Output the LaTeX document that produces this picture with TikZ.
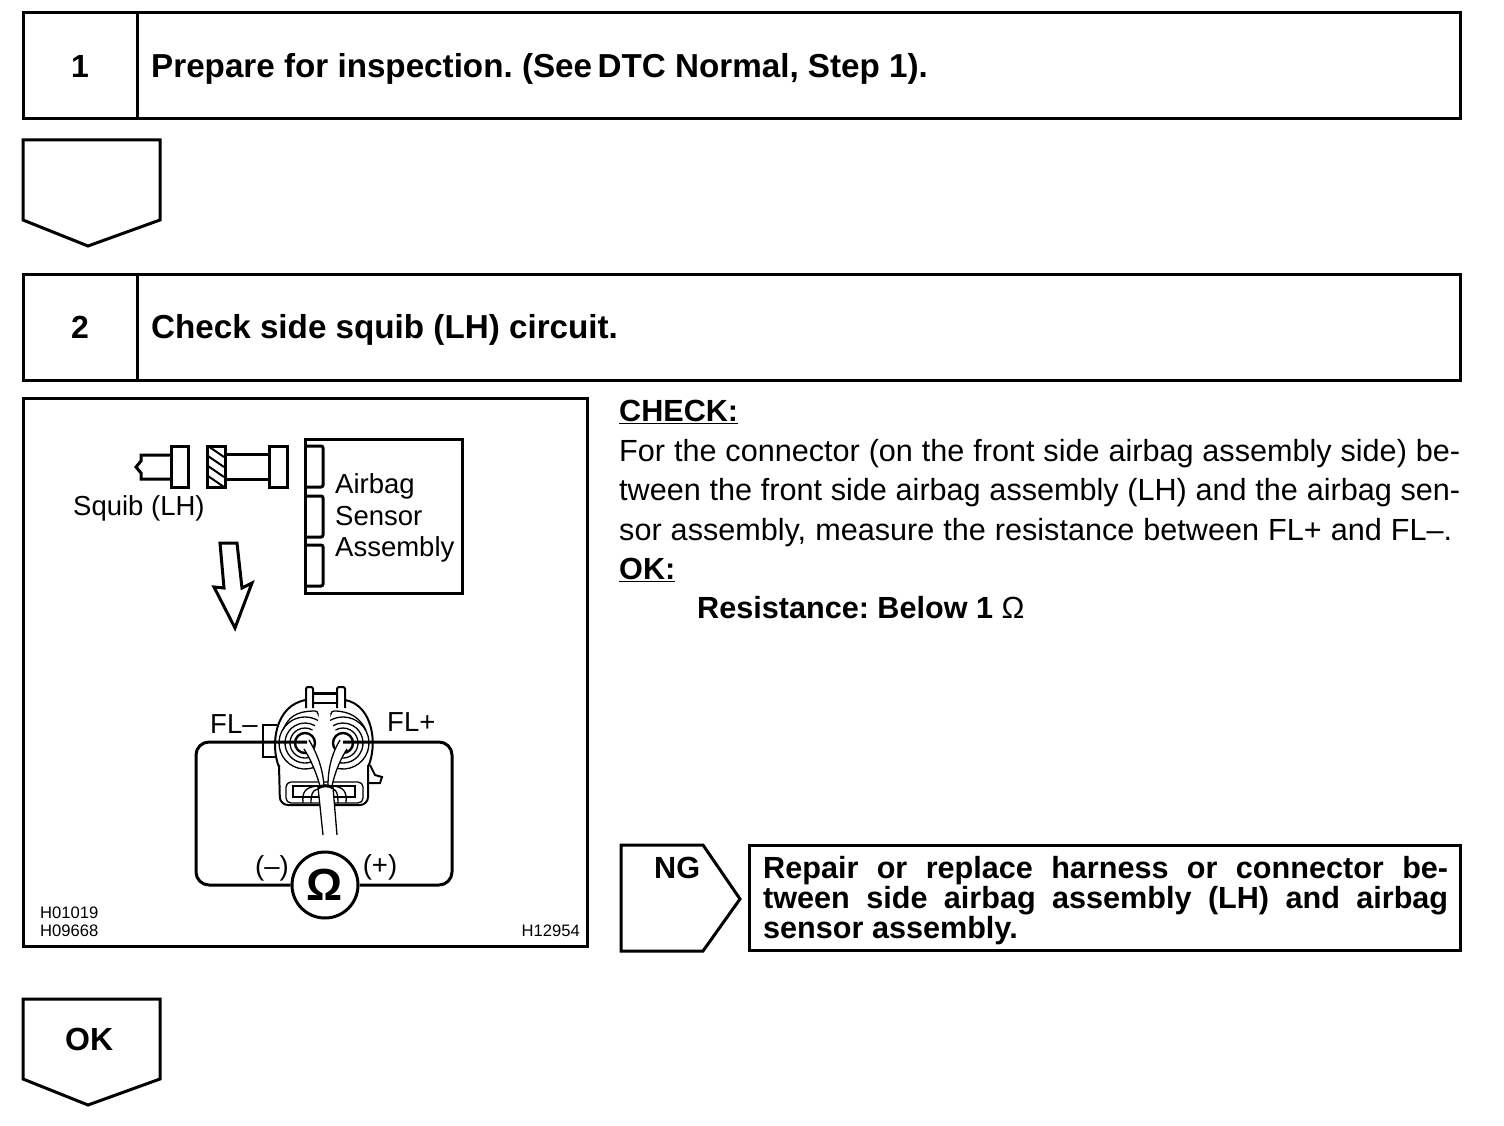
\documentclass[tikz,border=0pt]{standalone}
\usepackage{fontspec}
\setmainfont{Liberation Sans}
\newcommand{\sized}[1]{\fontsize{#1}{#1}\selectfont}
\tikzset{
  frame/.style={draw, line width=3pt, inner sep=0pt, outer sep=0pt},
  headtext/.style={anchor=base west, inner sep=0pt, font=\sized{33.2}\bfseries},
  bodytext/.style={anchor=base west, inner sep=0pt, font=\sized{30.6}},
  boldtext/.style={anchor=base west, inner sep=0pt, font=\sized{30.6}\bfseries},
  pictext/.style={anchor=base west, inner sep=0pt, font=\sized{27.5}},
  tinytext/.style={anchor=base west, inner sep=0pt, font=\sized{16.6}},
  thin part/.style={line width=1.3pt},
  thick part/.style={line width=3pt}
}
\frenchspacing
\begin{document}
\begin{tikzpicture}[x=1pt, y=-1pt]
	\useasboundingbox (0,0) rectangle (1504,1126);
	% Step 1
	\node[frame, minimum width=114pt, minimum height=106pt, font=\sized{32}\bfseries] (numa) at (80,66) {1};
	\node[frame, minimum width=1323pt, minimum height=106pt] (stepa) at (798.5,66) {};
	\node[headtext] (texta) at (151,78) {Prepare for inspection. (See\,DTC Normal, Step 1).};
	\draw[thick part] (23,140) -- (160,140) -- (160,220) -- (88,246) -- (23,220) -- cycle;

	% Step 2
	\node[frame, minimum width=114pt, minimum height=106pt, font=\sized{32}\bfseries] (numb) at (80,327) {2};
	\node[frame, minimum width=1323pt, minimum height=106pt] (stepb) at (798.5,327) {};
	\node[headtext] (textb) at (151,338) {Check side squib (LH) circuit.};

	% Picture frame
	\node[frame, minimum width=564pt, minimum height=548pt] (pic) at (305,672) {};
	\node[tinytext] (codea) at (40,918) {H01019};
	\node[tinytext] (codeb) at (40,936) {H09668};
	\node[tinytext, anchor=base east] (codec) at (580,936) {H12954};

	% Squib and connector
	\draw[thick part] (171,455) -- (141,455) -- (141,461) -- (136,467) -- (141,473) -- (141,479) -- (171,479);
	\draw[thick part] (171,446) rectangle (188,487);
	\draw[thick part] (225,454) -- (269,454) (225,479) -- (269,479);
	\draw[thick part] (269,446) rectangle (287,487);
	\draw[thick part] (207,446) rectangle (225,487);
	\foreach \ya in {450,460,470,480}
		\draw[line width=2pt] (208,\ya-4) -- (224,\ya+7);
	\node[pictext] (squib) at (73,515) {Squib (LH)};

	% Airbag sensor
	\node[frame, minimum width=157pt, minimum height=154pt] (sensor) at (383.5,516) {};
	\foreach \ya/\yb in {446/487,496/537,545/586}
		\draw[thick part, rounded corners=2pt] (305,\ya) -- (323,\ya) -- (323,\yb) -- (305,\yb);
	\node[pictext] (sensa) at (335,493) {Airbag};
	\node[pictext] (sensb) at (335,525) {Sensor};
	\node[pictext] (sensc) at (335,556) {Assembly};

	% Big arrow
	\draw[thick part] (220,543) -- (237,543) -- (242,588) -- (252,583) -- (235,628) -- (214,587) -- (224,588) -- cycle;

	% Meter
	\node[draw, circle, line width=3pt, minimum size=66pt, inner sep=0pt, font=\sized{45}\bfseries] (meter) at (325,885) {Ω};
	\node[pictext, anchor=base] (minus) at (272,875) {(–)};
	\node[pictext, anchor=base] (plus) at (380,874) {(+)};

	% Connector body
	\draw[line width=2pt] (277,725) -- (263,725) -- (263,757) -- (277,757);
	\draw[line width=2pt] (370,765) -- (375,775) -- (382,777) -- (380,783) -- (368,783);
	\draw[line width=2pt, rounded corners=8pt] (279,765) -- (280,805) -- (368,805) -- (368,765);
	\draw[line width=2pt] (279,767) .. controls (270,745) and (275,705) .. (306,700);
	\draw[line width=2pt] (368,767) .. controls (378,745) and (373,705) .. (345,700);
	\draw[line width=2pt, rounded corners=2pt] (306,708) -- (306,687) -- (313,687) -- (313,708);
	\draw[line width=2pt, rounded corners=2pt] (337,708) -- (337,687) -- (345,687) -- (345,708);
	\draw[thick part] (313,693) -- (337,693);
	\draw[thin part] (313,703) -- (337,703);
	\draw[thin part, rounded corners=3pt] (283,730) .. controls (288,718) and (295,711) .. (318,711) -- (318,713);
	\draw[thin part, rounded corners=3pt] (366,730) .. controls (360,718) and (350,711) .. (331,711) -- (331,713);
	\draw[thin part, rounded corners=5pt] (286,782) rectangle (363,803);
	\draw[thin part] (293,786) rectangle (355,797);
	\draw[thin part] (303,803) .. controls (302,792) and (305,787) .. (318,786);
	\draw[thin part] (311,803) .. controls (311,795) and (312,790) .. (318,789);
	\draw[thin part] (346,803) .. controls (347,792) and (344,787) .. (333,786);
	\draw[thin part] (338,803) .. controls (338,795) and (337,790) .. (333,789);

	% Rings around pins
	\foreach \ra in {15,20,26}
		\draw[thin part] ([shift={(60:\ra)}]305,743) arc[start angle=60, end angle=300, radius=\ra];
	\foreach \ra in {15,20,26}
		\draw[thin part] ([shift={(120:\ra)}]343,743) arc[start angle=120, end angle=-120, radius=\ra];
	\draw[line width=2.4pt] (305,743) circle[radius=10];
	\draw[line width=2.4pt] (343,743) circle[radius=10];

	% Leads and cable
	\draw[thin part, fill=white] (309,740) .. controls (318,755) and (323,770) .. (324,786) -- (320,786) .. controls (316,772) and (311,760) .. (304,749);
	\draw[thin part, fill=white] (340,740) .. controls (331,755) and (328,770) .. (328,786) -- (332,786) .. controls (335,772) and (340,760) .. (347,749);
	\fill[white] (318,787) -- (323,835) -- (337,835) -- (333,787) -- cycle;
	\draw[thin part] (318,787) -- (323,835);
	\draw[thin part] (333,787) -- (337,835);
	\draw[thick part] (318,788) .. controls (322,785) and (329,785) .. (333,788);

	% Meter loop
	\draw[thick part, rounded corners=13pt] (307,742) -- (196,742) -- (196,885) -- (meter.west);
	\draw[thick part, rounded corners=13pt] (343,742) -- (452,742) -- (452,885) -- (meter.east);
	\node[pictext] (flm) at (210,733) {FL–};
	\node[pictext] (flp) at (387,731) {FL+};

	% Check text
	\node[boldtext] (check) at (619,421) {\underline{CHECK:}};
	\node[bodytext] (linea) at (619,461) {\makebox[841pt][s]{For the connector (on the front side airbag assembly side) be-}};
	\node[bodytext] (lineb) at (619,500) {\makebox[841pt][s]{tween the front side airbag assembly (LH) and the airbag sen-}};
	\node[bodytext] (linec) at (619,540) {\makebox[833pt][s]{sor assembly, measure the resistance between FL+ and FL–.}};
	\node[boldtext] (ok) at (619,579) {\underline{OK:}};
	\node[boldtext] (res) at (697,618) {Resistance: Below 1 {\normalfont Ω}};

	% NG branch
	\draw[thick part] (621,845) -- (703,845) -- (740,899) -- (703,951) -- (621,951) -- cycle;
	\node[boldtext] (ng) at (654,878) {NG};
	\node[frame, minimum width=711pt, minimum height=105pt] (repair) at (1104.5,897.5) {};
	\node[boldtext] (repa) at (763,878) {\makebox[685pt][s]{Repair or replace harness or connector be-}};
	\node[boldtext] (repb) at (763,908) {\makebox[685pt][s]{tween side airbag assembly (LH) and airbag}};
	\node[boldtext] (repc) at (763,938) {sensor assembly.};

	% OK branch
	\draw[thick part] (23,999) -- (160,999) -- (160,1079) -- (88,1105) -- (23,1079) -- cycle;
	\node[boldtext, font=\sized{32}\bfseries] (okb) at (65,1050) {OK};
\end{tikzpicture}
\end{document}
